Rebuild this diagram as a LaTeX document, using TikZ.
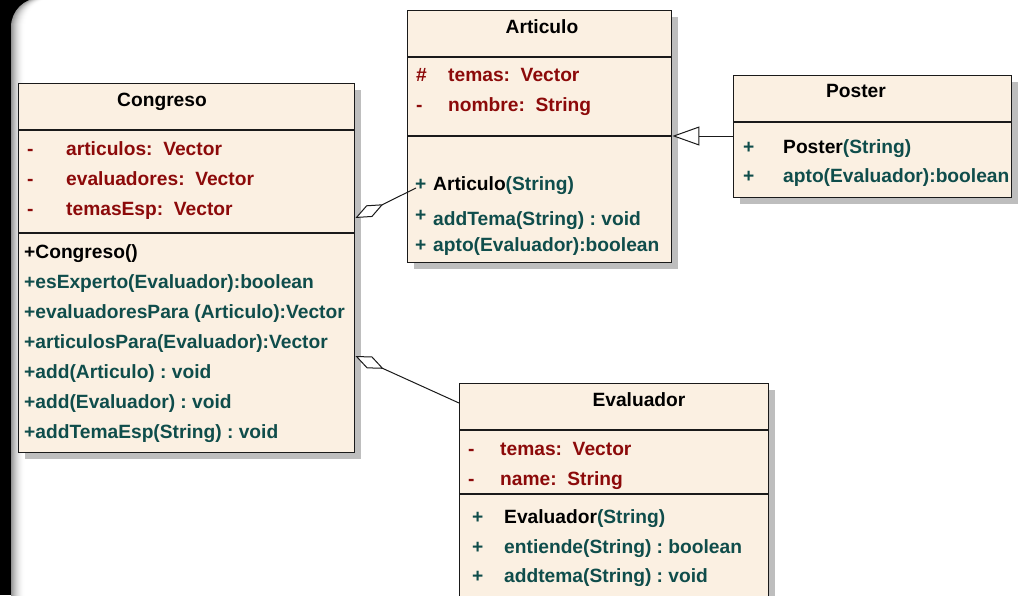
\documentclass[tikz,border=0pt]{standalone}
\usepackage{fontspec}
\setmainfont{Liberation Sans}
\usetikzlibrary{arrows.meta,shadows}
\definecolor{cream}{HTML}{FBF0E2}
\definecolor{attrred}{HTML}{8C0A0A}
\definecolor{methteal}{HTML}{0F4D4B}
\definecolor{shadowgray}{HTML}{BEBEBE}
\definecolor{edgeline}{HTML}{1A1A1A}
\frenchspacing
\begin{document}
\begin{tikzpicture}[x=1pt,y=-1pt,
  font=\fontsize{19.2}{22}\selectfont\bfseries,
  classbox/.style={draw=edgeline, line width=1.4pt, fill=cream, inner sep=0pt,
    anchor=north west,
    drop shadow={shadow xshift=6pt, shadow yshift=-6pt, fill=shadowgray, opacity=1}},
  divider/.style={draw=edgeline, line width=1.4pt},
  ttl/.style={inner sep=0pt, anchor=base, text=black},
  attr/.style={inner sep=0pt, anchor=base west, text=attrred},
  meth/.style={inner sep=0pt, anchor=base west, text=methteal},
  link/.style={draw=edgeline, line width=1pt},
  aggr/.style={link, {Diamond[open, fill=white, length=31pt, width=13pt, line width=1pt]}-},
  inherit/.style={link, -{Triangle[open, fill=white, length=27pt, width=19pt, line width=1pt]}}
]
\clip (0,0) rectangle (1020,595);

% slide frame: black margin and a white panel with a soft left edge
\fill[black] (0,0) rectangle (1020,595);
\foreach \i in {0,...,14}{
  \pgfmathsetmacro\p{58+42*(1-(1-\i/14)^2)}
  \fill[white!\p!black, rounded corners=29pt] (11+\i,-2) rectangle (1060,640);
}

% class boxes
\node[classbox, minimum width=336pt, minimum height=369pt] (congreso) at (18,83) {};
\node[classbox, minimum width=264pt, minimum height=252pt] (articulo) at (407,10) {};
\node[classbox, minimum width=278pt, minimum height=122pt] (poster) at (733,75) {};
\node[classbox, minimum width=309pt, minimum height=240pt] (evaluador) at (459,383) {};

% compartment lines
\draw[divider] (congreso.west |- 0,130) -- (congreso.east |- 0,130);
\draw[divider] (congreso.west |- 0,233) -- (congreso.east |- 0,233);
\draw[divider] (articulo.west |- 0,57) -- (articulo.east |- 0,57);
\draw[divider] (articulo.west |- 0,136) -- (articulo.east |- 0,136);
\draw[divider] (poster.west |- 0,122) -- (poster.east |- 0,122);
\draw[divider] (evaluador.west |- 0,430) -- (evaluador.east |- 0,430);
\draw[divider] (evaluador.west |- 0,494) -- (evaluador.east |- 0,494);

% Congreso
\node[ttl] (cg-t) at (162,106) {Congreso};
\node[attr] (cg-v1) at (27,155) {-};
\node[attr] (cg-a1) at (66,155) {articulos:~~Vector};
\node[attr] (cg-v2) at (27,185) {-};
\node[attr] (cg-a2) at (66,185) {evaluadores:~~Vector};
\node[attr] (cg-v3) at (27,215) {-};
\node[attr] (cg-a3) at (66,215) {temasEsp:~~Vector};
\node[meth, text=black] (cg-m1) at (24,258) {+Congreso()};
\node[meth] (cg-m2) at (24,288) {+esExperto(Evaluador):boolean};
\node[meth] (cg-m3) at (24,318) {+evaluadoresPara (Articulo):Vector};
\node[meth] (cg-m4) at (24,348) {+articulosPara(Evaluador):Vector};
\node[meth] (cg-m5) at (24,378) {+add(Articulo) : void};
\node[meth] (cg-m6) at (24,408) {+add(Evaluador) : void};
\node[meth] (cg-m7) at (24,438) {+addTemaEsp(String) : void};

% Articulo
\node[ttl] (ar-t) at (542,33) {Articulo};
\node[attr] (ar-v1) at (416,81) {\#};
\node[attr] (ar-a1) at (448,81) {temas:~~Vector};
\node[attr] (ar-v2) at (416,111) {-};
\node[attr] (ar-a2) at (448,111) {nombre:~~String};
\node[meth] (ar-p1) at (415,190) {+};
\node[meth] (ar-m1) at (433,190) {\textcolor{black}{Articulo}(String)};
\node[meth] (ar-p2) at (415,221) {+};
\node[meth] (ar-m2) at (433,225) {addTema(String) : void};
\node[meth] (ar-p3) at (415,251) {+};
\node[meth] (ar-m3) at (433,251) {apto(Evaluador):boolean};

% Poster
\node[ttl] (po-t) at (856,97) {Poster};
\node[meth] (po-p1) at (743,153) {+};
\node[meth] (po-m1) at (783,153) {\textcolor{black}{Poster}(String)};
\node[meth] (po-p2) at (743,182) {+};
\node[meth] (po-m2) at (783,182) {apto(Evaluador):boolean};

% Evaluador
\node[ttl] (ev-t) at (639,406) {Evaluador};
\node[attr] (ev-v1) at (468,455) {-};
\node[attr] (ev-a1) at (500,455) {temas:~~Vector};
\node[attr] (ev-v2) at (468,485) {-};
\node[attr] (ev-a2) at (500,485) {name:~~String};
\node[meth] (ev-p1) at (472,523) {+};
\node[meth] (ev-m1) at (504,523) {\textcolor{black}{Evaluador}(String)};
\node[meth] (ev-p2) at (472,553) {+};
\node[meth] (ev-m2) at (504,553) {entiende(String) : boolean};
\node[meth] (ev-p3) at (472,582) {+};
\node[meth] (ev-m3) at (504,582) {addtema(String) : void};

% relations
\coordinate (cg-ar) at (congreso.east |- 0,218);
\coordinate (ar-in) at (416,188);
\coordinate (cg-ev) at (congreso.east |- 0,356);
\coordinate (ev-in) at (evaluador.west |- 0,403);
\draw[aggr] (cg-ar) -- (ar-in);
\draw[aggr] (cg-ev) -- (ev-in);
\draw[inherit] (poster.west |- 0,136) -- (articulo.east |- 0,136);
\end{tikzpicture}
\end{document}
